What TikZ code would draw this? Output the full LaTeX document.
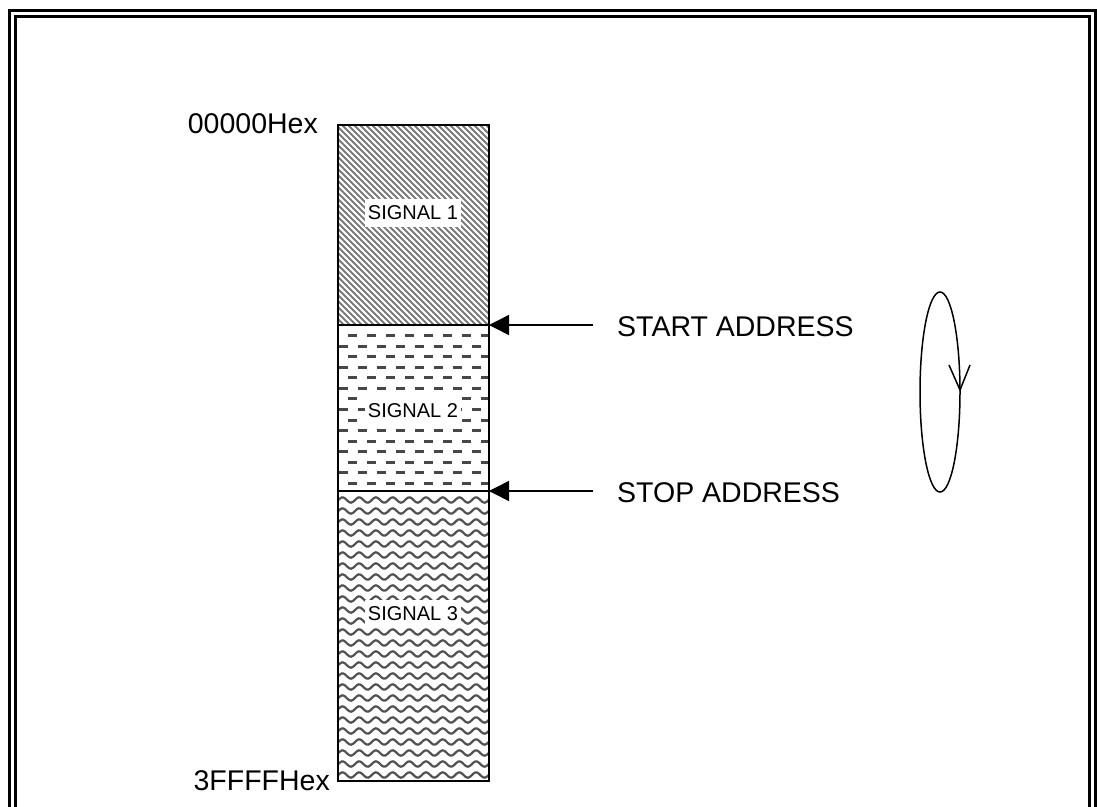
\documentclass[tikz,border=0pt]{standalone}
\usepackage{fontspec}
\setmainfont{Liberation Sans}
\usetikzlibrary{arrows.meta,shapes.geometric}
\begin{document}
\begin{tikzpicture}[x=1pt,y=-1pt,
  big/.style={font=\fontsize{28.5}{34}\selectfont, inner sep=0pt},
  sig/.style={font=\fontsize{20}{24}\selectfont, fill=white, inner xsep=3pt, inner ysep=7pt},
  frame/.style={line width=3pt},
  hatch/.style={line width=2pt, draw=black!52},
  dashl/.style={line width=3pt, draw=black!72},
  wave/.style={line width=2.2pt, draw=black!68, line cap=round},
  boxline/.style={line width=1.8pt},
  ptr/.style={line width=1.5pt, -{Triangle[length=20pt,width=20pt]}},
  loopline/.style={line width=1.5pt},
]
\useasboundingbox (0,0) rectangle (1097,806);
% frame
\draw[frame] (9.5,830) -- (9.5,10) -- (1095,10) -- (1095,830);
\draw[frame] (15,830) -- (15,16) -- (1089,16) -- (1089,830);

% signal 1 hatch
\begin{scope}
\clip (338,125) rectangle (489,325);
\foreach \x in {132,138,...,492} \draw[hatch] (\x,125) -- ++(205,205);
\end{scope}

% signal 2 dashes
\begin{scope}
\clip (338,325) rectangle (489,491);
\foreach \k in {0,...,14} {
  \pgfmathsetmacro\yy{round(335+10.57*\k)+0.5}
  \pgfmathsetmacro\off{mod(\k,2)*9.5}
  \foreach \x in {310,329,...,500} \draw[dashl] (\x+\off,\yy) -- ++(9,0);
}
\end{scope}

% signal 3 waves
\begin{scope}
\clip (338,491) rectangle (489,781);
\foreach \k in {0,...,26} {
  \pgfmathsetmacro\yy{500+11*\k}
  \draw[wave] plot[domain=0:170, samples=90, smooth] (330+\x, {\yy + 2.7*sin(21.557*\x)});
}
\end{scope}

% memory box
\draw[boxline] (338,125) rectangle (489,781);
\coordinate (d1) at (489,325);
\coordinate (d2) at (489,491);
\draw[boxline] (338,325) -- (d1);
\draw[boxline] (338,491) -- (d2);

% signal labels
\node[sig] (s1) at (413,213) {SIGNAL 1};
\node[sig] (s2) at (413,411) {SIGNAL 2};
\node[sig] (s3) at (413,614) {SIGNAL 3};

% address labels
\node[big, anchor=east] (top) at (318,124) {00000Hex};
\node[big, anchor=east] (bot) at (330,781) {3FFFFHex};
\node[big, anchor=west] (start) at (617,327) {START ADDRESS};
\node[big, anchor=west] (stop) at (617,493) {STOP ADDRESS};

% pointers
\coordinate (a1) at (593,325);
\coordinate (a2) at (593,491);
\draw[ptr] (a1) -- (d1);
\draw[ptr] (a2) -- (d2);

% loop
\node[draw, loopline, ellipse, minimum width=40pt, minimum height=200pt, inner sep=0pt] (loop) at (940,392) {};
\coordinate (tip) at (960,390);
\draw[loopline] (949,365) -- (tip) -- (970,365);
\end{tikzpicture}
\end{document}
